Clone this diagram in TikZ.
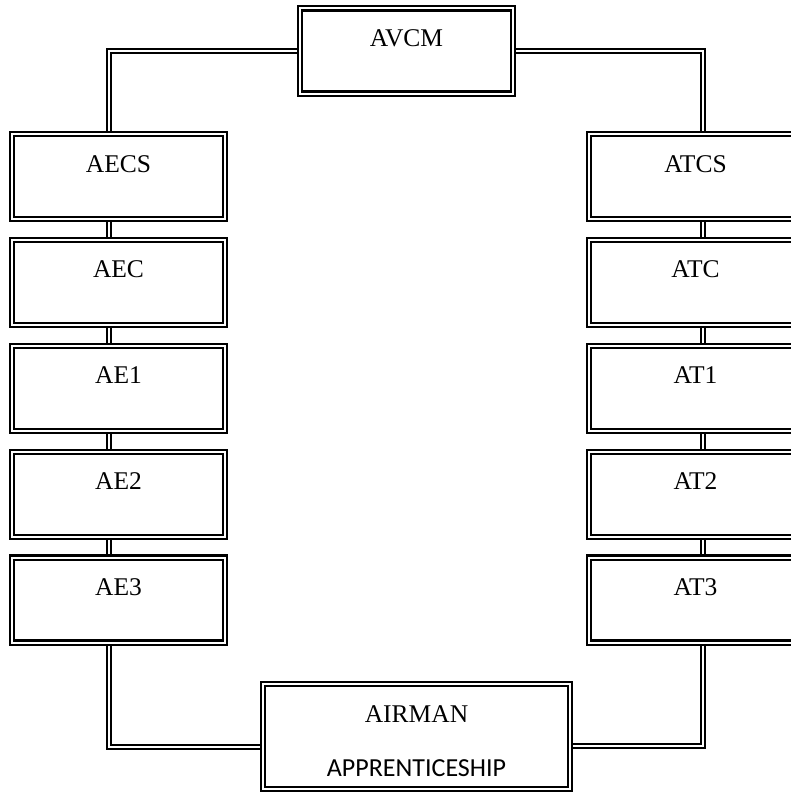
\documentclass[tikz,border=0pt]{standalone}
\usepackage{fontspec}
\setmainfont{Liberation Serif}
\newfontfamily\calibri{Carlito}
\usetikzlibrary{positioning}
\tikzset{
 box/.style={draw,double,double distance=2pt,line width=2.2pt,outer sep=3.2pt,inner sep=0pt,
             minimum width=213pt,minimum height=85pt,text height=5pt,text depth=14pt,
             font=\fontsize{25.5}{27}\selectfont},
 link/.style={draw,double,double distance=2pt,line width=1.7pt}
}

\begin{document}
\begin{tikzpicture}[x=1pt,y=1pt,node distance=14.5pt]
\useasboundingbox (0,0) rectangle (791,-792);
\node[box] (avcm) at (406.5,-51) {AVCM};
% left column
\node[box] (aecs) at (118.5,-176.5) {AECS};
\node[box,below=of aecs] (aec) {AEC};
\node[box,below=of aec] (ae1) {AE1};
\node[box,below=of ae1] (ae2) {AE2};
\node[box,below=of ae2] (ae3) {AE3};
% right column
\node[box] (atcs) at (695.5,-176.5) {ATCS};
\node[box,below=of atcs] (atc) {ATC};
\node[box,below=of atc] (at1) {AT1};
\node[box,below=of at1] (at2) {AT2};
\node[box,below=of at2] (at3) {AT3};
\node[box,minimum width=307pt,minimum height=105pt,text height=79pt,text depth=0pt,align=center]
  (airman) at (416.5,-736.5) {AIRMAN\\[27pt]{\calibri\fontsize{26}{27}\selectfont APPRENTICESHIP}};
\draw[link] ([xshift=-9.5pt]aecs.north) |- (avcm.west);
\draw[link] ([xshift=7.5pt]atcs.north) |- (avcm.east);
\foreach \a/\b in {aecs/aec,aec/ae1,ae1/ae2,ae2/ae3}
  \draw[link] ([xshift=-9.5pt]\a.south) -- ([xshift=-9.5pt]\b.north);
\foreach \a/\b in {atcs/atc,atc/at1,at1/at2,at2/at3}
  \draw[link] ([xshift=7.5pt]\a.south) -- ([xshift=7.5pt]\b.north);
\draw[link] ([xshift=-9.5pt]ae3.south) |- ([yshift=-10.5pt]airman.west);
\draw[link] ([xshift=7.5pt]at3.south) |- ([yshift=-9.5pt]airman.east);
\end{tikzpicture}
\end{document}
